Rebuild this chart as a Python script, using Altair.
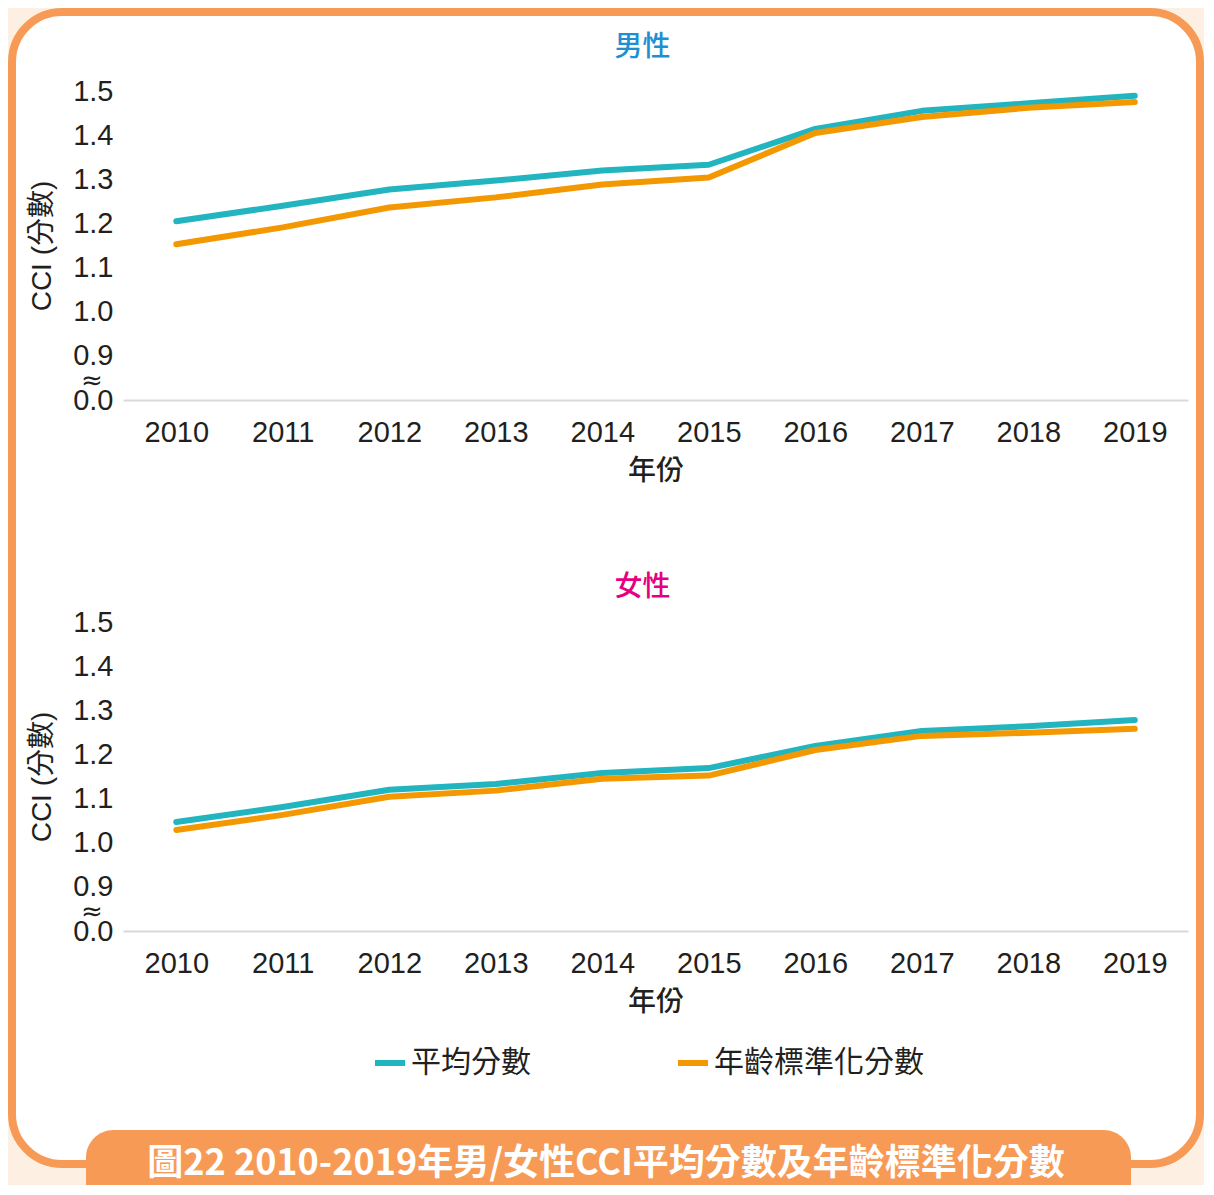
import altair as alt
import pandas as pd

years = [2010, 2011, 2012, 2013, 2014, 2015, 2016, 2017, 2018, 2019]
series_names = ["平均分數", "年齡標準化分數"]
series_colors = ["#22b5bf", "#f39800"]

male_avg = [1.205, 1.240, 1.277, 1.297, 1.320, 1.333, 1.414, 1.455, 1.472, 1.489]
male_std = [1.153, 1.191, 1.236, 1.259, 1.288, 1.304, 1.405, 1.441, 1.462, 1.475]
female_avg = [1.047, 1.081, 1.120, 1.133, 1.158, 1.169, 1.219, 1.253, 1.264, 1.278]
female_std = [1.029, 1.063, 1.104, 1.118, 1.145, 1.152, 1.210, 1.242, 1.249, 1.258]

y_ticks = [0.8, 0.9, 1.0, 1.1, 1.2, 1.3, 1.4, 1.5]
y_domain = [0.8, 1.5]

panel_titles = ["男性", "女性"]
panel_title_colors = ["#1e8fd2", "#e4007f"]
x_title = "年份"
y_title = "CCI (分數)"
banner_text = "圖22  2010-2019年男/女性CCI平均分數及年齡標準化分數"

LATIN = "Liberation Sans, Arial, Noto Sans CJK TC, sans-serif"
CJK = "Noto Sans CJK TC, sans-serif"
TEXT = "#231f20"
ORANGE = "#f79a56"

W, H = 1065, 309


def make_df(avg, std):
    rows = []
    for yr, a, s in zip(years, avg, std):
        rows.append({"year": str(yr), "series": series_names[0], "value": a})
        rows.append({"year": str(yr), "series": series_names[1], "value": s})
    return pd.DataFrame(rows)


color_scale = alt.Scale(domain=series_names, range=series_colors)
one = alt.Data(values=[{"a": 1}])


def panel(df, title, title_color, title_y, show_legend, decorations):
    if show_legend:
        legend = alt.Legend(
            title=None, orient="none", legendX=249, legendY=423,
            direction="horizontal", symbolType="stroke", symbolSize=900,
            symbolStrokeWidth=6, labelFontSize=30, labelFont=CJK,
            labelColor=TEXT, columnPadding=135, labelOffset=3, padding=0,
            labelLimit=400, zindex=1,
        )
    else:
        legend = None
    lines = alt.Chart(df).mark_line(
        strokeWidth=6, strokeCap="round", strokeJoin="round"
    ).encode(
        x=alt.X(
            "year:O",
            scale=alt.Scale(type="point", padding=0.5),
            axis=alt.Axis(
                title=x_title, labelAngle=0, zindex=1,
                domainColor="#d9d9d9", domainWidth=2,
                labelPadding=18, titlePadding=10,
            ),
        ),
        y=alt.Y(
            "value:Q",
            scale=alt.Scale(domain=y_domain, zero=False, nice=False),
            axis=alt.Axis(
                title=y_title,
                values=y_ticks,
                labelExpr="datum.value < 0.85 ? '0.0' : format(datum.value, '.1f')",
                domain=False,
                labelPadding=10,
                titlePadding=16,
                titleFont=LATIN,
                titleFontWeight="normal",
                zindex=1,
            ),
        ),
        color=alt.Color("series:N", scale=color_scale, sort=series_names, legend=legend),
    )
    approx = alt.Chart(one).mark_text(
        text="≈", fontSize=26, font="DejaVu Sans", color=TEXT,
        align="center", baseline="middle",
    ).encode(x=alt.value(-31), y=alt.datum(0.843))
    title_mark = alt.Chart(one).mark_text(
        fontSize=28, font=CJK, fontWeight=500, color=title_color,
        align="center", baseline="middle",
    ).encode(x=alt.value(W / 2 - 13), y=alt.value(title_y), text=alt.value(title))
    return alt.layer(*decorations, lines, approx, title_mark).properties(width=W, height=H)


# frame and caption banner, placed relative to the top panel's plot area
frame = alt.Chart(one).mark_rect(
    fill="white", stroke=ORANGE, strokeWidth=8, cornerRadius=50
).encode(x=alt.value(-111), x2=alt.value(1077), y=alt.value(-79), y2=alt.value(1073))
banner = alt.Chart(one).mark_rect(
    fill=ORANGE, cornerRadiusTopLeft=32, cornerRadiusTopRight=32
).encode(x=alt.value(-37), x2=alt.value(1008), y=alt.value(1039), y2=alt.value(1094))
banner_label = alt.Chart(one).mark_text(
    font=CJK, fontSize=36, fontWeight="bold", color="white",
    align="center", baseline="middle",
).encode(x=alt.value(483), y=alt.value(1073), text=alt.value(banner_text))

top = panel(make_df(male_avg, male_std), panel_titles[0], panel_title_colors[0], -43, False,
            [frame, banner, banner_label])
bottom = panel(make_df(female_avg, female_std), panel_titles[1], panel_title_colors[1], -34, True, [])

chart = alt.vconcat(
    top, bottom, spacing=222, bounds="flush"
).resolve_scale(color="independent").properties(
    padding=0, background="#fdf0e2"
).configure_view(stroke=None).configure_axis(
    grid=False, ticks=False, labelFont=LATIN, labelFontSize=29,
    labelColor=TEXT, titleFont=CJK, titleFontSize=28, titleColor=TEXT,
    titleFontWeight=500,
)

chart.save("out.html", embed_options={"renderer": "svg", "actions": False})
